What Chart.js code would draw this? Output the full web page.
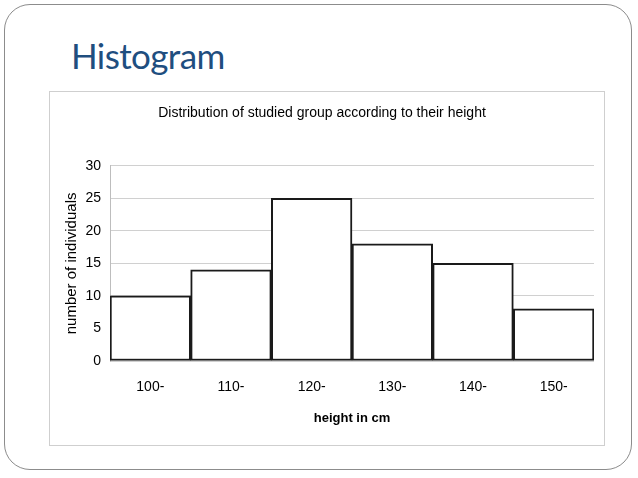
<!DOCTYPE html>
<html>
<head>
<meta charset="utf-8">
<script src="https://cdn.jsdelivr.net/npm/chart.js@4.4.0/dist/chart.umd.min.js"></script>
<style>
  html, body { margin: 0; padding: 0; background: #fff; }
  body { width: 638px; height: 478px; position: relative; overflow: hidden; }
  #slide { position: absolute; left: 4px; top: 4px; width: 628px; height: 466px;
           border: 1.5px solid #8c8c8c; border-radius: 26px; box-sizing: border-box; }
  #heading { position: absolute; left: 71px; top: 33px; font-family: Lato, 'Open Sans', sans-serif;
             font-size: 35px; color: #1f4e7f; line-height: 44px; letter-spacing: -0.6px; }
  #box { position: absolute; left: 49px; top: 91px; width: 556px; height: 355px;
         border: 1px solid #cfcfcf; box-sizing: border-box; }
  #box canvas { position: absolute; left: 0; top: 0; }
</style>
</head>
<body>
<div id="slide"></div>
<div id="heading">Histogram</div>
<div id="box"><canvas id="c" width="554" height="353"></canvas></div>
<script>
const chartTitle = "Distribution of studied group according to their height";
const categories = ["100-", "110-", "120-", "130-", "140-", "150-"];
const counts = [10, 14, 25, 18, 15, 8];
const yTicks = [0, 5, 10, 15, 20, 25, 30];
const xTitle = "height in cm";
const yTitle = "number of individuals";

const FF = "'Liberation Sans', Arial, sans-serif";

new Chart(document.getElementById('c'), {
  type: 'bar',
  data: {
    labels: categories,
    datasets: [{
      data: counts,
      backgroundColor: '#ffffff',
      borderColor: '#1a1a1a',
      borderWidth: 2,
      borderSkipped: false,
      barPercentage: 1.0,
      categoryPercentage: 1.0
    }]
  },
  options: {
    responsive: false,
    animation: false,
    devicePixelRatio: 1,
    layout: { padding: { left: 0, right: 10, top: 0, bottom: 0 } },
    plugins: {
      legend: { display: false },
      tooltip: { enabled: false },
      title: {
        display: true,
        text: chartTitle,
        color: '#000',
        font: { family: FF, size: 14, weight: 'normal' },
        padding: { top: 13, bottom: 44 }
      }
    },
    scales: {
      x: {
        grid: { display: false, drawTicks: false },
        border: { display: false },
        ticks: { color: '#000', font: { family: FF, size: 14 }, padding: 18, maxRotation: 0 },
        title: { display: true, text: xTitle, color: '#000',
                 font: { family: FF, size: 13, weight: 'bold' }, padding: { top: 8, bottom: 19 } },
        afterFit: (s) => { s.height = 84; }
      },
      y: {
        min: 0, max: 30,
        afterBuildTicks: (s) => { s.ticks = yTicks.map(v => ({ value: v })); },
        grid: { color: '#d0d0d0', lineWidth: 1, drawTicks: false },
        border: { display: true, color: '#bdbdbd', width: 1 },
        ticks: { color: '#000', font: { family: FF, size: 14 }, padding: 9 },
        title: { display: true, text: yTitle, color: '#000',
                 font: { family: FF, size: 15, weight: 'normal' }, padding: { top: 13, bottom: 0 } },
        afterFit: (s) => { s.width = 60; }
      }
    }
  }
});
</script>
</body>
</html>
